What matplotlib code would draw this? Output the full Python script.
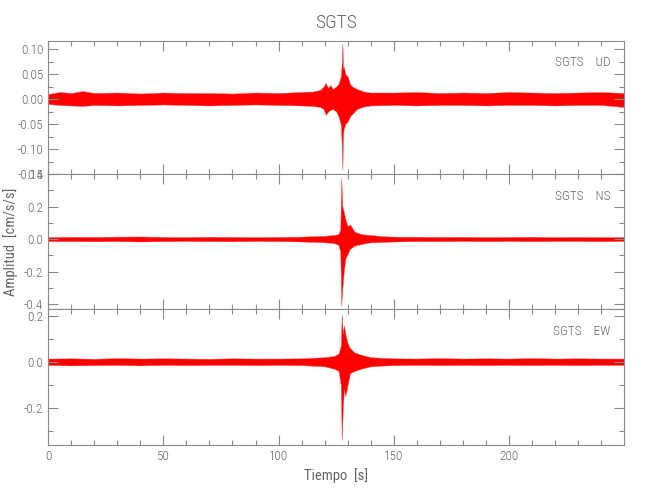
import matplotlib
matplotlib.use("Agg")
import matplotlib.pyplot as plt
from matplotlib.ticker import MultipleLocator, FormatStrFormatter
from matplotlib import font_manager

# envelope of each trace (upper / lower peak values), time in s
t_ud = [0, 5, 10, 15, 20, 30, 40, 50, 60, 70, 80, 90, 100, 110, 115, 118, 119.5, 120.5,
        121.5, 122.5, 123.5, 125, 126, 127, 127.4, 127.7, 128.0, 128.3, 129, 130, 131, 132,
        134, 137, 140, 150, 160, 170, 180, 190, 200, 210, 220, 230, 240, 249.9]
up_ud = [0.010, 0.014, 0.012, 0.016, 0.012, 0.013, 0.011, 0.013, 0.012, 0.012, 0.011, 0.013,
         0.012, 0.014, 0.015, 0.018, 0.025, 0.032, 0.022, 0.028, 0.020, 0.025, 0.030, 0.045,
         0.070, 0.111, 0.060, 0.065, 0.050, 0.045, 0.030, 0.025, 0.020, 0.015, 0.013, 0.013,
         0.014, 0.012, 0.013, 0.012, 0.014, 0.013, 0.012, 0.013, 0.014, 0.012]
lo_ud = [-0.010, -0.012, -0.013, -0.014, -0.012, -0.013, -0.012, -0.011, -0.012, -0.013,
         -0.012, -0.011, -0.012, -0.013, -0.014, -0.016, -0.020, -0.032, -0.025, -0.022,
         -0.020, -0.025, -0.035, -0.050, -0.090, -0.142, -0.070, -0.060, -0.050, -0.045,
         -0.035, -0.030, -0.020, -0.015, -0.013, -0.012, -0.013, -0.012, -0.012, -0.013,
         -0.012, -0.012, -0.013, -0.012, -0.012, -0.016]

t_ns = [0, 10, 20, 30, 40, 50, 60, 70, 80, 90, 100, 110, 120, 124, 126, 126.8, 127.2, 127.7,
        128.3, 129, 130, 131, 133, 136, 140, 145, 150, 160, 170, 180, 190, 200, 210, 220,
        230, 240, 249.9]
up_ns = [0.012, 0.014, 0.013, 0.015, 0.016, 0.013, 0.012, 0.014, 0.013, 0.012, 0.013, 0.015,
         0.020, 0.025, 0.030, 0.060, 0.375, 0.200, 0.170, 0.120, 0.080, 0.090, 0.045, 0.030,
         0.025, 0.018, 0.015, 0.014, 0.013, 0.014, 0.012, 0.013, 0.014, 0.012, 0.013, 0.012,
         0.012]
lo_ns = [-0.012, -0.013, -0.014, -0.013, -0.015, -0.013, -0.012, -0.013, -0.014, -0.012,
         -0.013, -0.015, -0.020, -0.025, -0.035, -0.080, -0.410, -0.300, -0.200, -0.120,
         -0.090, -0.060, -0.040, -0.030, -0.020, -0.018, -0.015, -0.013, -0.013, -0.012,
         -0.013, -0.012, -0.013, -0.012, -0.012, -0.013, -0.012]

t_ew = [0, 10, 20, 30, 40, 50, 60, 70, 80, 90, 100, 110, 120, 124, 126, 127, 127.4, 127.9,
        128.4, 129, 130, 131, 133, 136, 140, 145, 150, 160, 170, 180, 190, 200, 210, 220,
        230, 240, 249.9]
up_ew = [0.014, 0.015, 0.013, 0.016, 0.014, 0.015, 0.014, 0.013, 0.015, 0.014, 0.014, 0.015,
         0.020, 0.025, 0.035, 0.070, 0.207, 0.120, 0.160, 0.120, 0.080, 0.060, 0.040, 0.030,
         0.020, 0.017, 0.015, 0.014, 0.016, 0.014, 0.015, 0.014, 0.016, 0.014, 0.015, 0.014,
         0.014]
lo_ew = [-0.014, -0.016, -0.015, -0.014, -0.016, -0.014, -0.015, -0.014, -0.014, -0.015,
         -0.014, -0.015, -0.020, -0.030, -0.040, -0.100, -0.343, -0.200, -0.120, -0.150,
         -0.100, -0.050, -0.040, -0.030, -0.020, -0.017, -0.015, -0.014, -0.015, -0.014,
         -0.015, -0.014, -0.015, -0.014, -0.015, -0.014, -0.014]

station = "SGTS"
components = ["UD", "NS", "EW"]

# thin font, closer to the IDL vector font
names = set(f.name for f in font_manager.fontManager.ttflist)
fam = "DejaVu Sans"
for cand in ["Liberation Sans Narrow", "Roboto Condensed", "Roboto", "Lato"]:
    if cand in names:
        fam = cand
        break
plt.rcParams["font.family"] = fam
plt.rcParams["font.weight"] = "light"

grey = "#8a8a8a"
txt = "#666666"

fig = plt.figure(figsize=(6.5, 5), dpi=100)
boxes = [[0.074, 0.652, 0.886, 0.266],
         [0.074, 0.382, 0.886, 0.270],
         [0.074, 0.110, 0.886, 0.272]]
series = [(t_ud, up_ud, lo_ud), (t_ns, up_ns, lo_ns), (t_ew, up_ew, lo_ew)]
ylims = [(-0.15, 0.116), (-0.43, 0.40), (-0.363, 0.23)]
majors = [0.05, 0.2, 0.2]
fmts = ["%.2f", "%.1f", "%.1f"]

axes = []
for i in range(3):
    ax = fig.add_axes(boxes[i])
    t, up, lo = series[i]
    ax.fill_between(t, lo, up, color="red", lw=0.3, edgecolor="#ff5050")
    ax.set_xlim(0, 249.9)
    ax.set_ylim(*ylims[i])
    ax.xaxis.set_major_locator(MultipleLocator(50))
    ax.xaxis.set_minor_locator(MultipleLocator(10))
    ax.yaxis.set_major_locator(MultipleLocator(majors[i]))
    ax.yaxis.set_minor_locator(MultipleLocator(majors[i] / 2))
    ax.yaxis.set_major_formatter(FormatStrFormatter(fmts[i]))
    ax.tick_params(which="both", direction="in", top=True, right=True, colors=grey,
                   labelcolor=txt, labelsize=9.5, width=0.8)
    ax.tick_params(which="major", length=7)
    ax.tick_params(which="minor", length=3.5)
    for s in ax.spines.values():
        s.set_color(grey)
        s.set_linewidth(0.8)
    if i < 2:
        ax.tick_params(labelbottom=False)
    ax.text(0.976, 0.835, station + "    " + components[i], transform=ax.transAxes,
            ha="right", va="center", fontsize=9.5, color=txt)
    axes.append(ax)

axes[2].set_xlabel("Tiempo  [s]", fontsize=10.5, color=txt, labelpad=4)
axes[1].set_ylabel("Amplitud  [cm/s/s]", fontsize=10.5, color=txt, labelpad=4)
fig.text(0.517, 0.955, station, ha="center", va="center", fontsize=14, color=txt)

fig.savefig("out.png", dpi=100)
